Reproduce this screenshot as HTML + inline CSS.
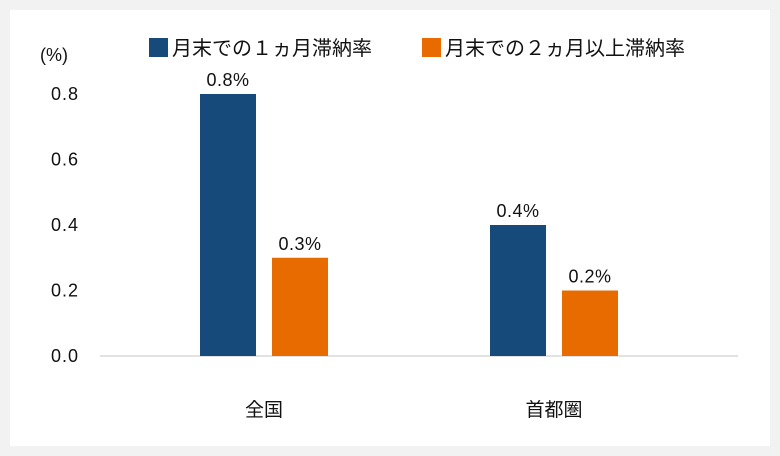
<!DOCTYPE html>
<html><head><meta charset="utf-8"><style>
body{margin:0;background:#f2f2f2;}
svg{display:block;font-family:"Liberation Sans","Noto Sans CJK JP",sans-serif;}
</style></head><body>
<svg width="780" height="456">
<rect x="10" y="10" width="760" height="436" fill="#fff"/>
<g id="plot"></g>
</svg>
<script>
const categories=["全国","首都圏"];
const series1=[0.8,0.4];
const series2=[0.3,0.2];
const labels1=["0.8%","0.4%"];
const labels2=["0.3%","0.2%"];
const ticks=[0,0.2,0.4,0.6,0.8];
const seriesNames=["月末での１ヵ月滞納率","月末での２ヵ月以上滞納率"];
const colors=["#154a7a","#e86b00"];
const NS="http://www.w3.org/2000/svg";
const g=document.getElementById('plot');
const y0=356, pxPer=(356-94)/0.8;
const y=v=>y0-v*pxPer;
const cx=i=>264+i*290;
function mk(t,a,txt){const e=document.createElementNS(NS,t);for(const k in a)e.setAttribute(k,a[k]);if(txt!==undefined)e.textContent=txt;g.appendChild(e);return e;}
ticks.forEach(t=>{
 const e=mk('text',{x:79,y:y(t)+6,'text-anchor':'end','font-size':18,'letter-spacing':1,fill:'#111'},t.toFixed(1));
 
 
});
const u=mk('text',{x:40,y:61,'font-size':18,fill:'#111'},'(%)');


const ax=mk('line',{x1:100,x2:738,y1:y0,y2:y0,stroke:'#d9d9d9','stroke-width':1.5});


categories.forEach((c,i)=>{
 [[series1,labels1,-64],[series2,labels2,8]].forEach(([s,l,off],k)=>{
  const b=mk('rect',{x:cx(i)+off,y:y(s[i]),width:56,height:y0-y(s[i]),fill:colors[k]});
  
  
  const t=mk('text',{x:cx(i)+off+28,y:y(s[i])-8,'text-anchor':'middle','font-size':18,'letter-spacing':0.5,fill:'#111'},l[i]);
  
  
 });
 const cl=mk('text',{x:cx(i),y:416,'text-anchor':'middle','font-size':19,fill:'#111'},c);
 
 
});
[149,422].forEach((lx,k)=>{
 const r=mk('rect',{x:lx,y:38,width:19,height:19,fill:colors[k]});
 
 
 const t=mk('text',{x:lx+23,y:55,'font-size':20,fill:'#111'},seriesNames[k]);
 
 
});
</script>
</body></html>
